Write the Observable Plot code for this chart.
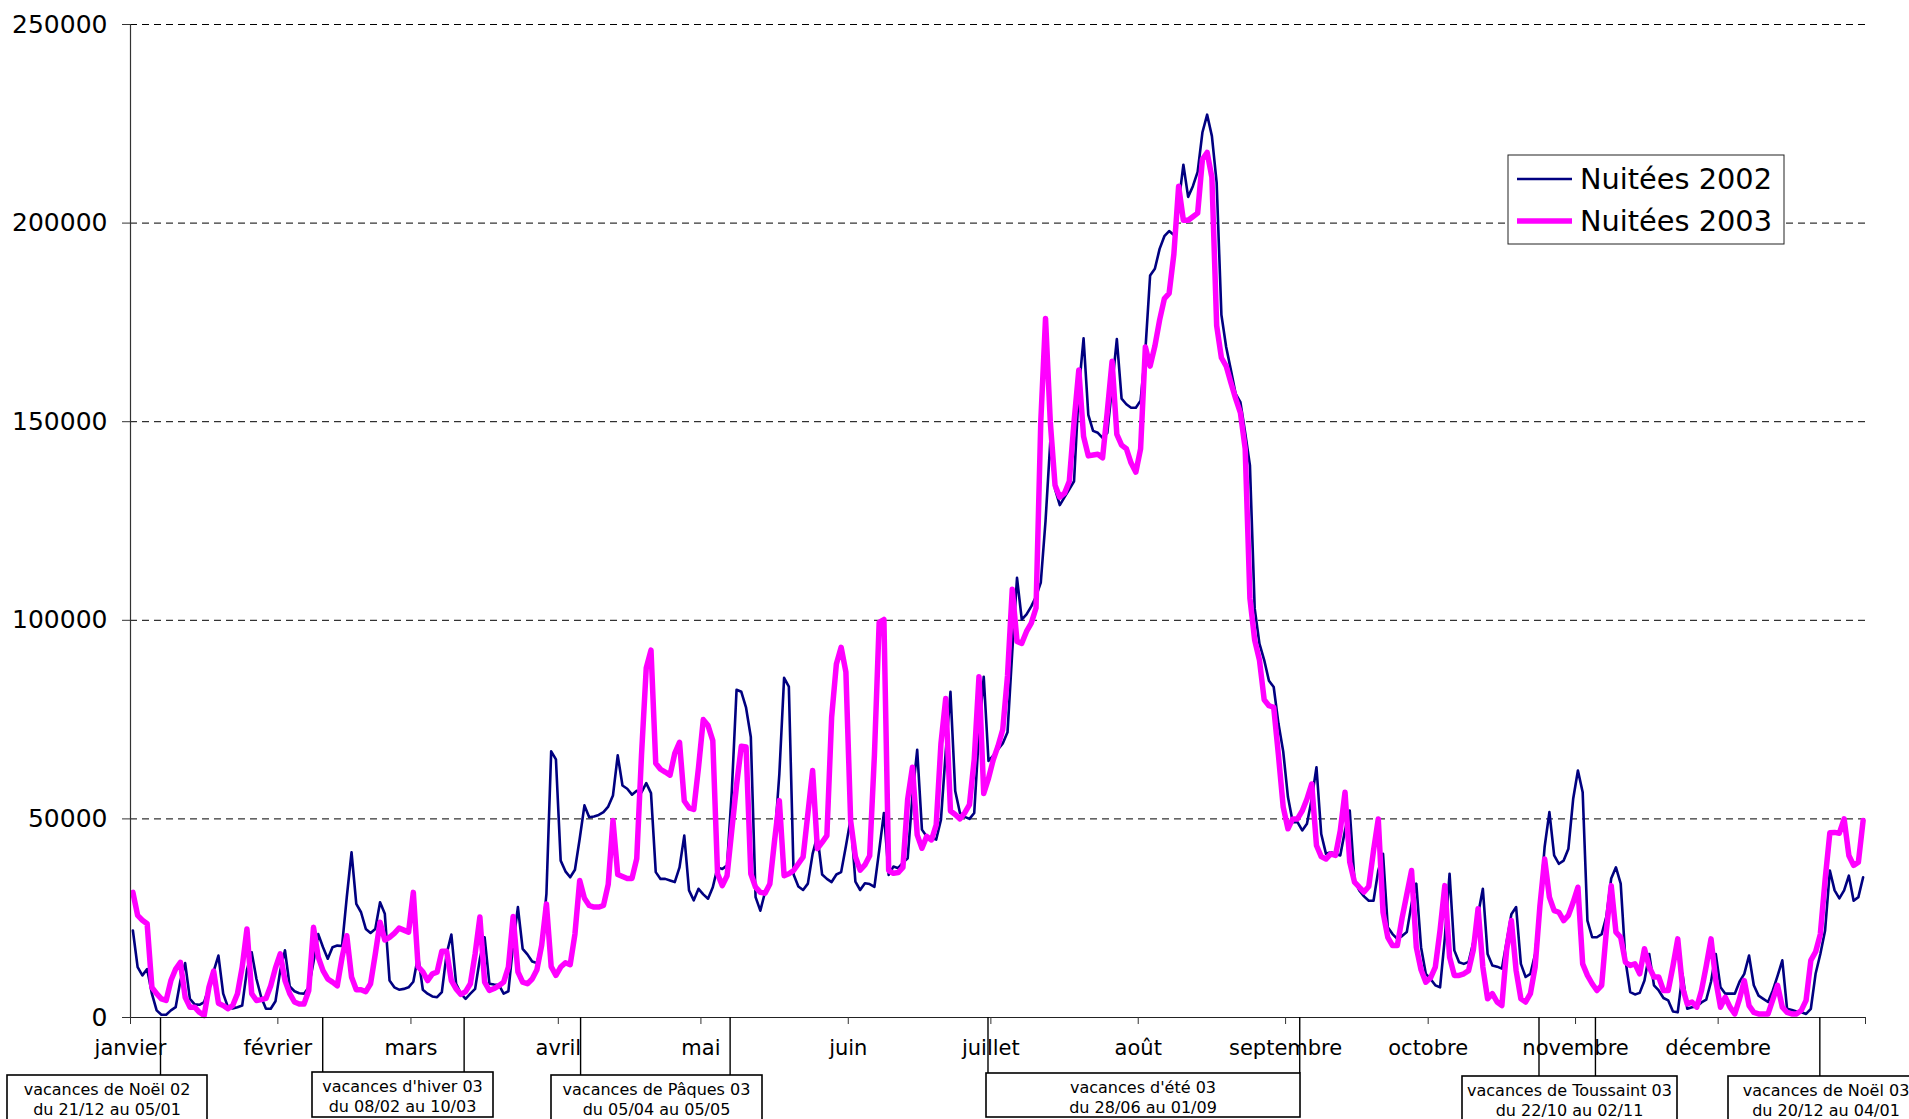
<!DOCTYPE html>
<html><head><meta charset="utf-8">
<script src="https://cdn.jsdelivr.net/npm/d3@7"></script>
<script src="https://cdn.jsdelivr.net/npm/@observablehq/plot@0.6"></script>
<style>html,body{margin:0;padding:0;background:#fff;overflow:hidden}</style>
</head><body><div id="chart"></div>
<script>
// ---------- data ----------
const months = ["janvier","février","mars","avril","mai","juin","juillet","août","septembre","octobre","novembre","décembre"];
const seriesNames = ["Nuitées 2002", "Nuitées 2003"];
const yTicks = [0, 50000, 100000, 150000, 200000, 250000];

// daily values, one per day of the year (aligned on day of year)
const nuitees2002 = [
21900,12700,10600,12200,6000,1800,700,700,1800,2600,
9300,13700,4700,3300,3200,3900,7600,11700,15600,6000,
2600,2300,2600,3000,12000,16400,9700,5100,2200,2200,
4100,11800,16900,7800,6600,6100,6000,7600,14000,21000,
17700,14800,17700,18100,18000,30300,41600,28600,26500,22300,
21300,22300,29000,26100,9300,7600,7000,7200,7600,9000,
15500,7000,6000,5300,5100,6400,16000,20900,8500,6000,
4700,6000,7200,14800,20200,8500,8300,8200,6000,6600,
18500,27800,17300,15900,14100,13700,18500,31100,67000,65000,
39500,36800,35300,37200,45000,53400,50400,50600,51000,51700,
53100,55900,66000,58400,57600,56100,57100,56700,59000,56500,
36600,34900,34900,34500,34100,37800,45800,32000,29500,32400,
31000,29900,32800,37800,37400,38300,57000,82500,82000,78000,
70600,30300,26900,31600,33800,44600,61300,85500,83300,36000,
33000,32100,33700,41200,45800,36000,34900,34100,36000,36600,
43100,50000,34200,32100,33800,33600,32900,42000,51500,35900,
38000,37600,39000,40100,55800,67400,47300,45600,45200,44800,
49800,66800,82000,57000,51500,50500,50000,51500,71800,85800,
64600,65900,67500,69000,71800,92100,110700,100200,101500,103500,
106000,109500,125000,145000,133000,129000,131000,133000,135000,158000,
171000,151700,147700,147200,145900,147200,158900,170800,155800,154400,
153500,153500,155300,167900,186800,188500,193500,196700,198000,197000,
205000,214700,206600,209300,212900,222800,227300,221900,210200,176900,
168800,163000,157000,154900,147200,139000,103000,94100,90000,84800,
83200,74000,67000,55500,49200,49200,47100,48800,55000,63000,
46200,41200,41600,41200,40800,47100,52100,34500,32000,30500,
29400,29400,37000,41200,22700,21000,19800,20500,21500,28600,
33700,17700,11000,9700,8100,7600,20000,36200,16900,13900,
13500,14000,19000,26000,32400,16000,13100,12800,12300,19000,
26000,27800,13500,10200,11000,16000,28000,43000,51700,40800,
38700,39500,42500,55000,62200,56700,24400,20200,20200,21000,
25500,35000,37800,33700,14400,6400,5800,6200,9300,16000,
8100,6800,4900,4300,1500,1300,11000,2200,2600,2800,
3800,4500,9000,16000,7600,6000,6000,6000,9000,11000,
15600,8100,5500,4700,3900,6800,10500,14400,2200,1900,
1500,1300,900,2200,11000,16000,21900,37000,32000,30000,
32000,35700,29400,30300,35300
];
const nuitees2003 = [
31500,25700,24500,23600,7600,6000,4700,4300,9300,12200,
13900,5100,2600,2600,1300,500,7600,11700,3600,3000,
2200,3000,6000,12700,22300,6000,4300,4500,4800,8000,
12500,16000,9300,6000,3900,3400,3400,6800,22700,15200,
11800,9700,8900,8000,15100,20600,10200,7000,7000,6500,
8500,16000,24000,19500,20200,21200,22500,22000,21500,31500,
12800,11500,9300,11000,11400,16700,16700,9300,7200,5800,
6500,8500,16000,25300,8900,6800,7300,8000,8900,12700,
25400,11500,8900,8500,9700,12000,18200,28600,12800,10600,
12700,13800,13300,21000,34500,30000,28200,27800,27800,28200,
33500,49600,36000,35500,35000,35000,40000,66000,88000,92500,
64000,62500,61800,61000,66500,69300,54500,52800,52400,63000,
75000,73500,69700,36200,33200,35700,47200,58500,68300,68100,
36200,32800,31500,31300,33600,44600,54600,35700,36200,37000,
38700,40400,51300,62200,42500,44100,45800,75600,89000,93200,
87000,49500,40500,37100,38400,40700,66000,99500,100200,37000,
36300,36500,37800,55000,63000,46000,42600,45600,44700,48500,
69000,80300,52000,51100,50000,51500,53600,65000,85800,56400,
60200,64900,68300,72500,86000,107800,94700,94200,97200,99300,
103100,150000,176000,150000,134000,131000,132000,135000,150000,163000,
146300,141400,141600,141800,140900,152600,165200,146800,144100,143200,
139600,137300,143200,168800,164000,169000,175600,181000,182300,192200,
209300,200700,200700,201600,202500,216000,217800,211500,174200,166100,
164000,159800,155800,152200,143200,105500,95000,90000,80000,78500,
78100,66000,53000,47500,50000,50000,52000,55000,58800,43300,
40500,39900,41200,40800,47000,56700,39100,34100,32800,31600,
33000,42000,50000,26500,20200,18100,18100,25000,31000,37000,
17700,12000,8900,10000,12700,22000,33200,15200,10600,10600,
11000,11800,17000,27400,12700,4700,6000,3900,3000,17000,
24400,11800,4700,3900,6000,12700,28000,39900,30300,26900,
26500,24400,25700,29000,32800,13500,10600,8500,6800,8100,
22000,33200,21500,20200,13900,13100,13500,11000,17300,12700,
10200,10200,6800,6800,13000,19800,7600,3400,3900,2600,
6800,13000,19800,9300,2600,5100,2600,900,4700,9300,
3000,1300,900,900,900,4500,8100,2600,1300,900,
900,1800,4300,14400,16500,21000,34600,46500,46600,46400,
50000,40800,38300,39100,49600
];

// school holidays (annotations below the axis)
const vacTitles = ["vacances de Noël 02","vacances d'hiver 03","vacances de Pâques 03","vacances d'été 03","vacances de Toussaint 03","vacances de Noël 03"];
const vacRanges = ["du 21/12 au 05/01","du 08/02 au 10/03","du 05/04 au 05/05","du 28/06 au 01/09","du 22/10 au 02/11","du 20/12 au 04/01"];
// where the marker strokes are drawn in the picture
const vacMarkers = [
  ["2003-01-07T10:00Z"],
  ["2003-02-10T13:00Z","2003-03-12T07:00Z"],
  ["2003-04-05T19:00Z","2003-05-07T06:00Z"],
  ["2003-06-30T12:00Z","2003-09-04T02:00Z"],
  ["2003-10-24T10:00Z","2003-11-05T07:00Z"],
  ["2003-12-22T12:00Z"]
];

// ---------- layout (pixels) ----------
const W = 1909, H = 1119;
const boxLayout = [
  {x: 7,    w: 200, top: 1075, h: 52},
  {x: 312,  w: 181, top: 1072, h: 45},
  {x: 551,  w: 211, top: 1075, h: 52},
  {x: 986,  w: 314, top: 1073, h: 44},
  {x: 1462, w: 215, top: 1076, h: 52},
  {x: 1728, w: 196, top: 1076, h: 52}
];
const colors = ["#000080", "#ff00ff"];
const widths = [2.6, 5.5];

// ---------- build ----------
const days = nuitees2003.map((_, i) => new Date(Date.UTC(2003, 0, 1 + i, 12)));
const rows02 = nuitees2002.map((v, i) => ({date: days[i], v}));
const rows03 = nuitees2003.map((v, i) => ({date: days[i], v}));
const monthStarts = d3.utcMonth.range(new Date(Date.UTC(2003,0,1)), new Date(Date.UTC(2004,0,2)));

const chart = Plot.plot({
  width: W, height: H,
  marginLeft: 130, marginRight: 44, marginTop: 24, marginBottom: 102,
  style: {fontFamily: "'DejaVu Sans', Verdana, sans-serif", background: "#fff", color: "#000", overflow: "hidden"},
  x: {type: "utc", domain: [monthStarts[0], monthStarts[12]]},
  y: {domain: [0, 250000]},
  marks: [
    Plot.ruleY(yTicks.slice(1), {stroke: "#000", strokeWidth: 1, strokeDasharray: "7,5"}),
    Plot.lineY(rows02, {x: "date", y: "v", stroke: colors[0], strokeWidth: widths[0]}),
    Plot.lineY(rows03, {x: "date", y: "v", stroke: colors[1], strokeWidth: widths[1]}),
    Plot.ruleX([monthStarts[0]], {stroke: "#333", strokeWidth: 1.2}),
    Plot.ruleY([0], {stroke: "#222", strokeWidth: 1.2}),
    Plot.axisY({ticks: yTicks, tickFormat: d => String(d), tickSize: 8, tickPadding: 15, fontSize: 25, label: null, stroke: "#333"}),
    Plot.axisX({ticks: monthStarts, tickFormat: d => d.getUTCFullYear() === 2003 ? months[d.getUTCMonth()] : "", tickSize: 7, tickPadding: 16, fontSize: 21, label: null, stroke: "#333"})
  ]
});
document.getElementById("chart").appendChild(chart);

// ---------- annotations & legend ----------
const xs = chart.scale("x"), ys = chart.scale("y");
const y0 = ys.apply(0);
const svg = d3.select(chart);
const ann = svg.append("g").attr("font-family", "'DejaVu Sans', Verdana, sans-serif").attr("text-anchor", "middle");
vacMarkers.forEach((ms, k) => {
  const b = boxLayout[k];
  ms.forEach(m => {
    const px = xs.apply(new Date(m));
    ann.append("line").attr("x1", px).attr("x2", px).attr("y1", y0).attr("y2", b.top)
      .attr("stroke", "#000").attr("stroke-width", 1.4);
  });
  ann.append("rect").attr("x", b.x).attr("y", b.top).attr("width", b.w).attr("height", b.h)
    .attr("fill", "#fff").attr("stroke", "#000").attr("stroke-width", 1.6);
  const cx = b.x + b.w / 2;
  ann.append("text").attr("x", cx).attr("y", b.top + 14).attr("dy", "0.35em")
    .attr("font-size", 16).attr("fill", "#000").text(vacTitles[k]);
  ann.append("text").attr("x", cx).attr("y", b.top + 34).attr("dy", "0.35em")
    .attr("font-size", 16).attr("fill", "#000").text(vacRanges[k]);
});

const lg = svg.append("g").attr("font-family", "'DejaVu Sans', Verdana, sans-serif").attr("text-anchor", "start");
lg.append("rect").attr("x", 1508).attr("y", 155).attr("width", 276).attr("height", 89)
  .attr("fill", "#fff").attr("stroke", "#222").attr("stroke-width", 1);
[179, 221].forEach((ly, k) => {
  lg.append("line").attr("x1", 1517).attr("x2", 1572).attr("y1", ly).attr("y2", ly)
    .attr("stroke", colors[k]).attr("stroke-width", widths[k]);
  lg.append("text").attr("x", 1580).attr("y", ly + 10).attr("font-size", 28.8).attr("fill", "#000").text(seriesNames[k]);
});
</script></body></html>
